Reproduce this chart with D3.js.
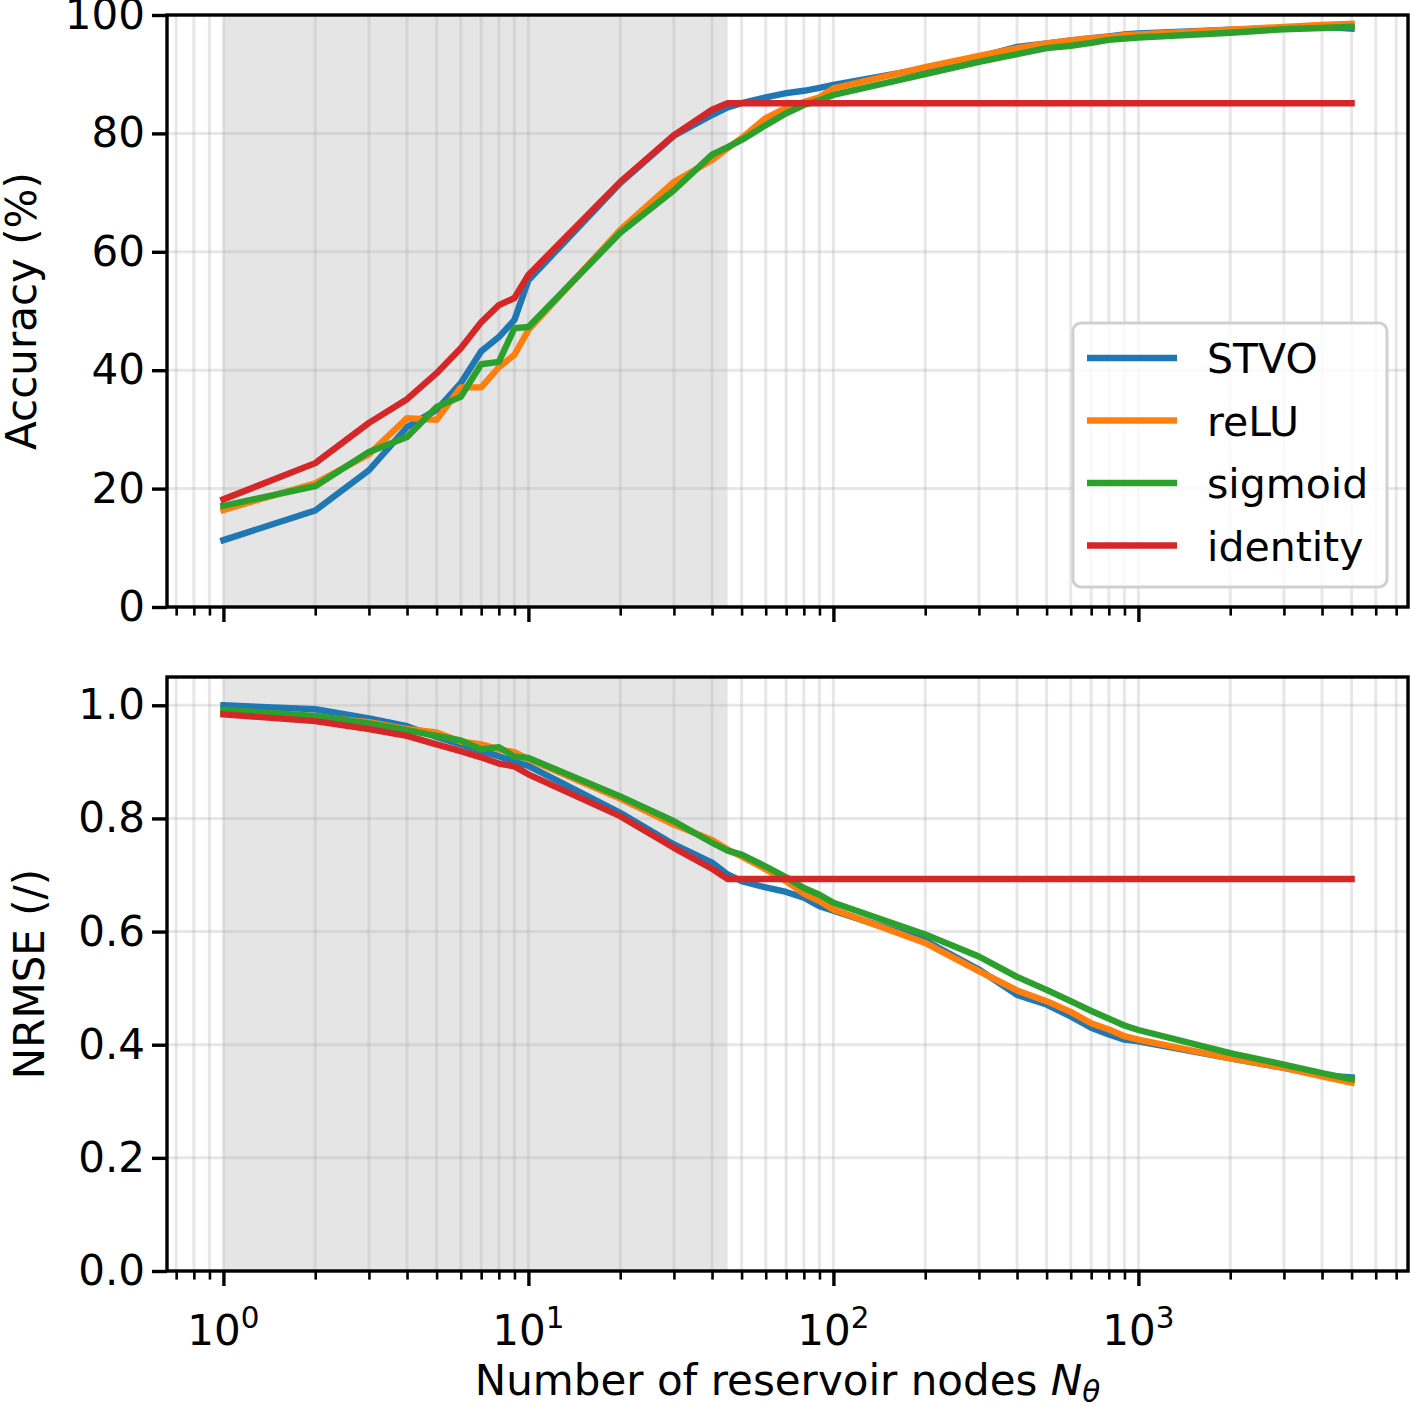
<!DOCTYPE html>
<html>
<head>
<meta charset="utf-8">
<script src="https://cdn.jsdelivr.net/npm/d3@7"></script>
<style>
  body { margin: 0; background: #fff; }
  text { font-family: "DejaVu Sans", sans-serif; }
</style>
</head>
<body>
<svg id="chart" width="1410" height="1408"></svg>
<script>
// number of reservoir nodes (x), shared by all series
const nodes = [1, 2, 3, 4, 5, 6, 7, 8, 9, 10, 20, 30, 40, 45, 50, 60, 70, 80, 90,
  100, 200, 300, 400, 500, 600, 700, 800, 900, 1000, 2000, 3000, 4000, 5000];

const seriesNames = ['STVO', 'reLU', 'sigmoid', 'identity'];
const seriesColors = ['#1f77b4', '#ff7f0e', '#2ca02c', '#d62728'];

// accuracy (%)
const accSTVO = [11.3, 16.3, 23.1, 30.4, 33.3, 37.8, 43.2, 45.6, 48.5, 55.2, 71.6, 79.6, 83.1, 84.4, 85.1, 86.1, 86.8, 87.2, 87.7,
  88.2, 91.0, 92.9, 94.6, 95.2, 95.7, 96.1, 96.4, 96.7, 96.9, 97.5, 97.8, 98.0, 97.7];
const accReLU = [16.4, 20.9, 25.8, 31.9, 31.6, 37.1, 37.1, 40.5, 42.6, 46.8, 63.7, 71.8, 75.5, 77.5, 79.2, 82.6, 84.3, 85.3, 86.1,
  87.6, 91.2, 93.1, 94.4, 95.2, 95.7, 96.1, 96.3, 96.6, 96.7, 97.5, 98.0, 98.3, 98.5];
const accSigmoid = [17.1, 20.4, 26.2, 28.7, 33.8, 35.5, 41.0, 41.4, 47.1, 47.3, 63.2, 70.4, 76.4, 77.7, 78.9, 81.4, 83.4, 84.8, 85.6,
  86.5, 90.0, 92.1, 93.4, 94.4, 94.8, 95.3, 95.8, 96.0, 96.2, 97.0, 97.6, 97.8, 98.0];
const accIdentity = [18.2, 24.3, 31.1, 35.1, 39.5, 43.7, 48.1, 51.0, 52.2, 56.1, 71.8, 79.7, 84.0, 85.1, 85.1, 85.1, 85.1, 85.1, 85.1,
  85.1, 85.1, 85.1, 85.1, 85.1, 85.1, 85.1, 85.1, 85.1, 85.1, 85.1, 85.1, 85.1, 85.1];

// NRMSE (/)
const nrmseSTVO = [1.000, 0.993, 0.977, 0.963, 0.944, 0.931, 0.919, 0.910, 0.900, 0.893, 0.810, 0.754, 0.722, 0.701, 0.689, 0.678, 0.670, 0.660, 0.645,
  0.637, 0.584, 0.533, 0.488, 0.471, 0.450, 0.430, 0.418, 0.409, 0.406, 0.376, 0.359, 0.346, 0.342];
const nrmseReLU = [0.988, 0.980, 0.970, 0.958, 0.952, 0.936, 0.931, 0.922, 0.917, 0.905, 0.835, 0.789, 0.762, 0.745, 0.733, 0.710, 0.689, 0.667, 0.654,
  0.639, 0.580, 0.530, 0.496, 0.477, 0.458, 0.438, 0.427, 0.415, 0.409, 0.376, 0.359, 0.344, 0.333];
const nrmseSigmoid = [0.992, 0.981, 0.968, 0.956, 0.946, 0.938, 0.922, 0.926, 0.909, 0.907, 0.839, 0.795, 0.757, 0.743, 0.736, 0.715, 0.696, 0.677, 0.665,
  0.651, 0.595, 0.556, 0.520, 0.497, 0.477, 0.460, 0.446, 0.434, 0.426, 0.385, 0.365, 0.350, 0.339];
const nrmseIdentity = [0.984, 0.972, 0.958, 0.946, 0.931, 0.919, 0.908, 0.897, 0.892, 0.878, 0.804, 0.748, 0.711, 0.693, 0.693, 0.693, 0.693, 0.693, 0.693,
  0.693, 0.693, 0.693, 0.693, 0.693, 0.693, 0.693, 0.693, 0.693, 0.693, 0.693, 0.693, 0.693, 0.693];

const shadeRange = [1, 45];
const accTicks = [0, 20, 40, 60, 80, 100];
const nrmseTicks = [0, 0.2, 0.4, 0.6, 0.8, 1.0];
const decadeTicks = [1, 10, 100, 1000];

const svg = d3.select('svg#chart');
const FONT = 42;
const LEFT = 167, RIGHT = 1408;

const panels = [
  { top: 15, bottom: 607, domain: [0, 100], ticks: accTicks, fmt: d3.format('d'),
    label: 'Accuracy (%)', labelX: 36, series: [accSTVO, accReLU, accSigmoid, accIdentity], legend: true },
  { top: 677, bottom: 1271, domain: [0, 1.05], ticks: nrmseTicks, fmt: d3.format('.1f'),
    label: 'NRMSE (/)', labelX: 44, series: [nrmseSTVO, nrmseReLU, nrmseSigmoid, nrmseIdentity], xLabels: true }
];

// log x with 5% margins like matplotlib
const lo = Math.log10(d3.min(nodes)), hi = Math.log10(d3.max(nodes));
const pad = 0.05 * (hi - lo);
const x = d3.scaleLog().domain([10 ** (lo - pad), 10 ** (hi + pad)]).range([LEFT, RIGHT]);
const [xMin, xMax] = x.domain();
const minorTicks = [];
for (let p = -1; p <= 3; p++) {
  for (let k = 2; k <= 9; k++) {
    const v = k * 10 ** p;
    if (v >= xMin && v <= xMax) minorTicks.push(v);
  }
}
const allTicks = decadeTicks.concat(minorTicks);

panels.forEach(panel => {
  const y = d3.scaleLinear().domain(panel.domain).range([panel.bottom, panel.top]);
  const g = svg.append('g');

  // shaded region
  g.append('rect')
      .attr('x', x(shadeRange[0]))
      .attr('y', panel.top)
      .attr('width', x(shadeRange[1]) - x(shadeRange[0]))
      .attr('height', panel.bottom - panel.top)
      .attr('fill', '#000')
      .attr('fill-opacity', 0.1);

  // grid
  g.selectAll('.vgrid').data(allTicks).join('line')
      .attr('x1', d => x(d)).attr('x2', d => x(d))
      .attr('y1', panel.top).attr('y2', panel.bottom)
      .attr('stroke', '#b0b0b0').attr('stroke-opacity', 0.3).attr('stroke-width', 3);
  g.selectAll('.hgrid').data(panel.ticks).join('line')
      .attr('x1', LEFT).attr('x2', RIGHT)
      .attr('y1', d => y(d)).attr('y2', d => y(d))
      .attr('stroke', '#b0b0b0').attr('stroke-opacity', 0.3).attr('stroke-width', 3);

  // series
  const line = d3.line()
      .x((d, i) => x(nodes[i]))
      .y(d => y(d));
  panel.series.forEach((s, i) => {
    g.append('path')
        .datum(s)
        .attr('d', line)
        .attr('fill', 'none')
        .attr('stroke', seriesColors[i])
        .attr('stroke-width', 6.4)
        .attr('stroke-linejoin', 'round')
        .attr('stroke-linecap', 'square');
  });

  // x ticks (major + minor), labels drawn separately
  const xMajor = g.append('g')
      .attr('transform', `translate(0,${panel.bottom})`)
      .call(d3.axisBottom(x).tickValues(decadeTicks).tickFormat('').tickSize(15));
  const xMinor = g.append('g')
      .attr('transform', `translate(0,${panel.bottom})`)
      .call(d3.axisBottom(x).tickValues(minorTicks).tickFormat('').tickSize(8.6));
  xMajor.select('.domain').remove();
  xMinor.select('.domain').remove();
  xMajor.selectAll('line').attr('stroke', '#000').attr('stroke-width', 3.4);
  xMinor.selectAll('line').attr('stroke', '#000').attr('stroke-width', 2.6);

  // y axis
  const yAxis = g.append('g')
      .attr('transform', `translate(${LEFT},0)`)
      .call(d3.axisLeft(y).tickValues(panel.ticks).tickFormat(panel.fmt).tickSize(15).tickPadding(7));
  yAxis.select('.domain').remove();
  yAxis.selectAll('line').attr('stroke', '#000').attr('stroke-width', 3.4);
  yAxis.selectAll('text')
      .attr('font-family', '"DejaVu Sans", sans-serif')
      .attr('font-size', FONT)
      .attr('fill', '#000');

  // frame
  g.append('rect')
      .attr('x', LEFT).attr('y', panel.top)
      .attr('width', RIGHT - LEFT).attr('height', panel.bottom - panel.top)
      .attr('fill', 'none').attr('stroke', '#000').attr('stroke-width', 3.4);

  // y label
  g.append('text')
      .attr('transform', `translate(${panel.labelX},${(panel.top + panel.bottom) / 2}) rotate(-90)`)
      .attr('text-anchor', 'middle')
      .attr('font-size', FONT)
      .text(panel.label);

  if (panel.xLabels) {
    const lab = g.selectAll('.xlab').data(decadeTicks).join('text')
        .attr('x', d => x(d))
        .attr('y', panel.bottom + 74)
        .attr('text-anchor', 'middle')
        .attr('font-size', FONT);
    lab.append('tspan').text('10');
    lab.append('tspan')
        .attr('font-size', FONT * 0.7)
        .attr('dy', -17)
        .text(d => Math.round(Math.log10(d)));

    const xl = g.append('text')
        .attr('x', (LEFT + RIGHT) / 2)
        .attr('y', 1395)
        .attr('text-anchor', 'middle')
        .attr('font-size', FONT);
    xl.append('tspan').text('Number of reservoir nodes ');
    xl.append('tspan').attr('font-style', 'italic').text('N');
    xl.append('tspan').attr('font-style', 'italic').attr('font-size', FONT * 0.7).attr('dy', 7).text('θ');
  }

  if (panel.legend) {
    const lg = g.append('g');
    lg.append('rect')
        .attr('x', 1073).attr('y', 323)
        .attr('width', 314).attr('height', 264)
        .attr('rx', 8)
        .attr('fill', '#fff').attr('fill-opacity', 0.8)
        .attr('stroke', '#d0d0d0').attr('stroke-width', 3);
    seriesNames.forEach((name, i) => {
      const cy = 358 + i * 62.5;
      lg.append('line')
          .attr('x1', 1087).attr('x2', 1177)
          .attr('y1', cy).attr('y2', cy)
          .attr('stroke', seriesColors[i]).attr('stroke-width', 6.4);
      lg.append('text')
          .attr('x', 1207).attr('y', cy + 15)
          .attr('font-size', 41)
          .text(name);
    });
  }
});
</script>
</body>
</html>
